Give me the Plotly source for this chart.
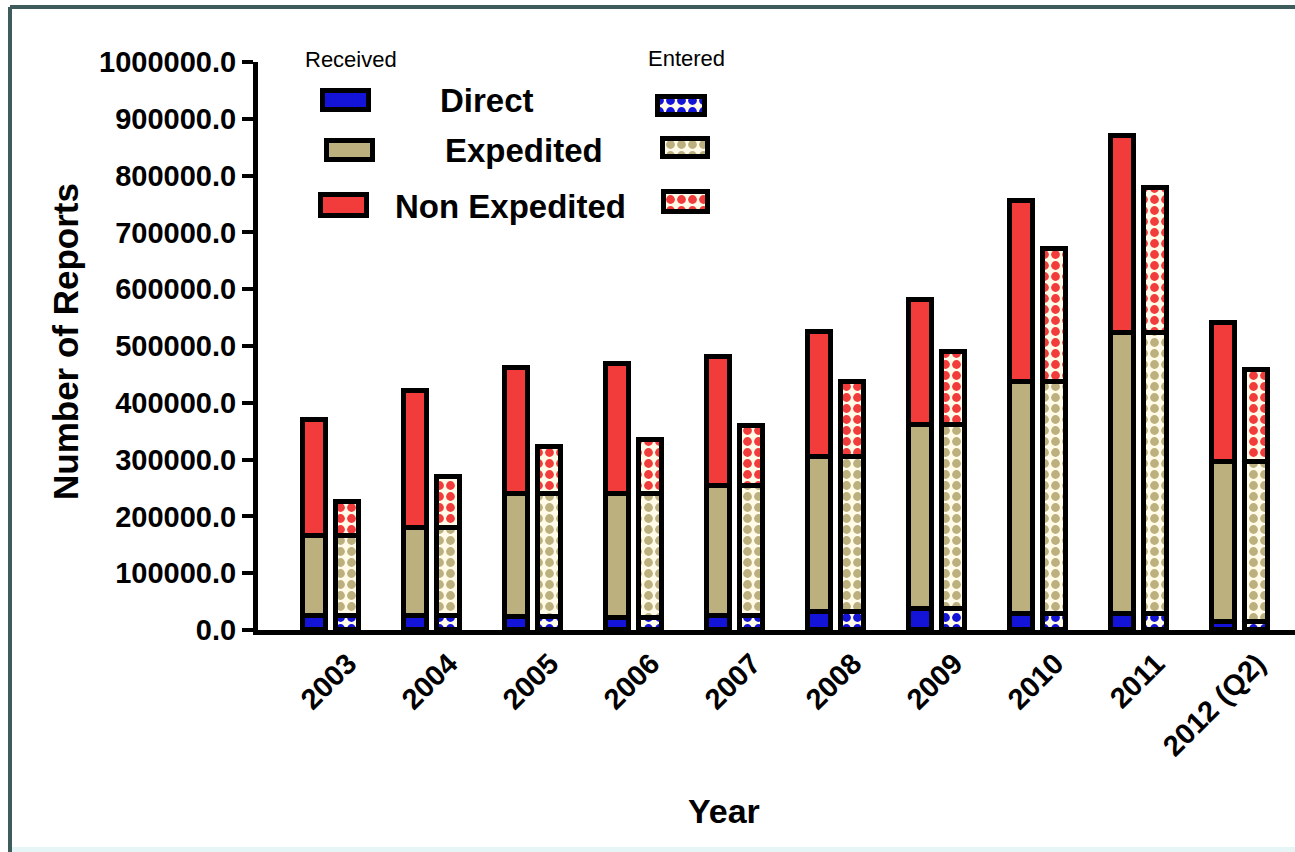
import plotly.graph_objects as go

# ---------------- data ----------------
years = ["2003", "2004", "2005", "2006", "2007", "2008", "2009", "2010", "2011", "2012 (Q2)"]

# Received (solid bars)
recv_direct = [24000, 24000, 23000, 22000, 24000, 32000, 37000, 29000, 28000, 14000]
recv_expedited = [141000, 156000, 217000, 218000, 230000, 273000, 324000, 408000, 495000, 282000]
recv_nonexp = [204000, 241000, 221000, 228000, 227000, 220000, 220000, 318000, 347000, 244000]

# Entered (checkered bars)
ent_direct = [24000, 24000, 23000, 22000, 24000, 32000, 37000, 29000, 28000, 14000]
ent_expedited = [141000, 156000, 217000, 218000, 230000, 273000, 324000, 408000, 495000, 282000]
ent_nonexp = [60000, 89000, 82000, 94000, 106000, 132000, 129000, 234000, 256000, 161000]

y_ticks = [0, 100000, 200000, 300000, 400000, 500000, 600000, 700000, 800000, 900000, 1000000]

series_names = ["Direct", "Expedited", "Non Expedited"]
# ---------------------------------------------------------------

W, H = 1295, 852
L, R, T, B = 258, 1295, 62, 630

BLUE = "#1414d8"
TAN = "#bcb07e"
RED = "#f23c3c"
CREAM = "#fffbe8"
colors = [BLUE, TAN, RED]
FONT = "Liberation Sans"

def px(x):
    return (x - L) / (R - L)

def py(y):
    return (B - y) / (B - T)

idx = list(range(len(years)))
x_recv = [i - 0.168 for i in idx]
x_ent = [i + 0.168 for i in idx]
BW = 0.228
LW = 5

def checker(col):
    return dict(shape=".", fgcolor=col, bgcolor=CREAM, fgopacity=1,
                size=11, solidity=0.5, fillmode="replace")

fig = go.Figure()

recv = [recv_direct, recv_expedited, recv_nonexp]
ent = [ent_direct, ent_expedited, ent_nonexp]

for name, vals, col in zip(series_names, recv, colors):
    fig.add_trace(go.Bar(
        x=x_recv, y=vals, width=BW, name="Received " + name,
        marker=dict(color=col, line=dict(color="black", width=LW)),
        showlegend=False,
    ))
for name, vals, col in zip(series_names, ent, colors):
    fig.add_trace(go.Bar(
        x=x_ent, y=vals, width=BW, name="Entered " + name,
        marker=dict(color=CREAM, line=dict(color="black", width=LW), pattern=checker(col)),
        showlegend=False,
    ))

# ---------- custom legend swatches (overlay axes in pixel units) ----------
legend_recv = [(346, 100, 46, 19), (350, 150, 46, 19), (344, 205, 46, 21)]
legend_ent = [(681, 106, 47, 18), (685, 148, 45, 18), (686, 202, 44, 20)]
for (cx, cy, w, h), col in zip(legend_recv, colors):
    fig.add_trace(go.Bar(
        orientation="h", y=[cy], x=[w], base=[cx - w / 2], width=[h],
        xaxis="x2", yaxis="y2", showlegend=False, hoverinfo="skip",
        marker=dict(color=col, line=dict(color="black", width=LW)),
    ))
for (cx, cy, w, h), col in zip(legend_ent, colors):
    fig.add_trace(go.Bar(
        orientation="h", y=[cy], x=[w], base=[cx - w / 2], width=[h],
        xaxis="x2", yaxis="y2", showlegend=False, hoverinfo="skip",
        marker=dict(color=CREAM, line=dict(color="black", width=LW), pattern=checker(col)),
    ))

annotations = [
    dict(text="Received", x=px(351), y=py(60), font=dict(size=22)),
    dict(text="Entered", x=px(686), y=py(58), font=dict(size=22)),
    dict(text="<b>Direct</b>", x=px(487), y=py(100), font=dict(size=33)),
    dict(text="<b>Expedited</b>", x=px(524), y=py(150), font=dict(size=33)),
    dict(text="<b>Non Expedited</b>", x=px(510), y=py(206), font=dict(size=33)),
    dict(text="<b>Number of Reports</b>", x=px(65), y=py(342), textangle=-90,
         font=dict(size=35)),
    dict(text="<b>Year</b>", x=px(724), y=py(811), font=dict(size=34)),
]
for a in annotations:
    a.update(xref="paper", yref="paper", showarrow=False, xanchor="center", yanchor="middle")
    a["font"].update(color="black", family=FONT)

shapes = [
    # outer frame
    dict(type="line", xref="paper", yref="paper", x0=px(10), x1=px(1310), y0=py(7), y1=py(7),
         line=dict(color="#3f5c5c", width=4)),
    dict(type="line", xref="paper", yref="paper", x0=px(10), x1=px(10), y0=py(7), y1=py(860),
         line=dict(color="#3f5c5c", width=4)),
    dict(type="rect", xref="paper", yref="paper", x0=px(12), x1=px(1310), y0=py(847), y1=py(860),
         line=dict(width=0), fillcolor="#e6f6f6"),
]

fig.update_layout(
    width=W, height=H,
    margin=dict(l=L, r=W - R, t=T, b=H - B, autoexpand=False),
    barmode="stack",
    bargap=0,
    paper_bgcolor="white",
    plot_bgcolor="white",
    font=dict(family=FONT, color="black"),
    showlegend=False,
    annotations=annotations,
    shapes=shapes,
    xaxis=dict(
        range=[(L - 331) / 101, (R - 331) / 101],
        tickmode="array", tickvals=[i + 0.17 for i in idx], ticktext=years,
        tickangle=-45, ticks="", showgrid=False, zeroline=False,
        showline=True, linecolor="black", linewidth=5,
        tickfont=dict(size=29, family=FONT, color="black", weight="bold"),
        ticklabelstandoff=0,
    ),
    yaxis=dict(
        range=[0, 1000000], tickmode="array", tickvals=y_ticks, tickformat=".1f",
        ticks="outside", ticklen=11, tickwidth=4, tickcolor="black",
        showgrid=False, zeroline=False,
        showline=True, linecolor="black", linewidth=5,
        tickfont=dict(size=29, family=FONT, color="black", weight="bold"),
        ticklabelstandoff=0,
    ),
    xaxis2=dict(overlaying="x", range=[L, R], visible=False, fixedrange=True),
    yaxis2=dict(overlaying="y", range=[B, T], visible=False, fixedrange=True),
)

fig.write_html("out.html", config={"displayModeBar": False},
               post_script="document.body.style.margin='0';document.body.style.overflow='hidden';")
